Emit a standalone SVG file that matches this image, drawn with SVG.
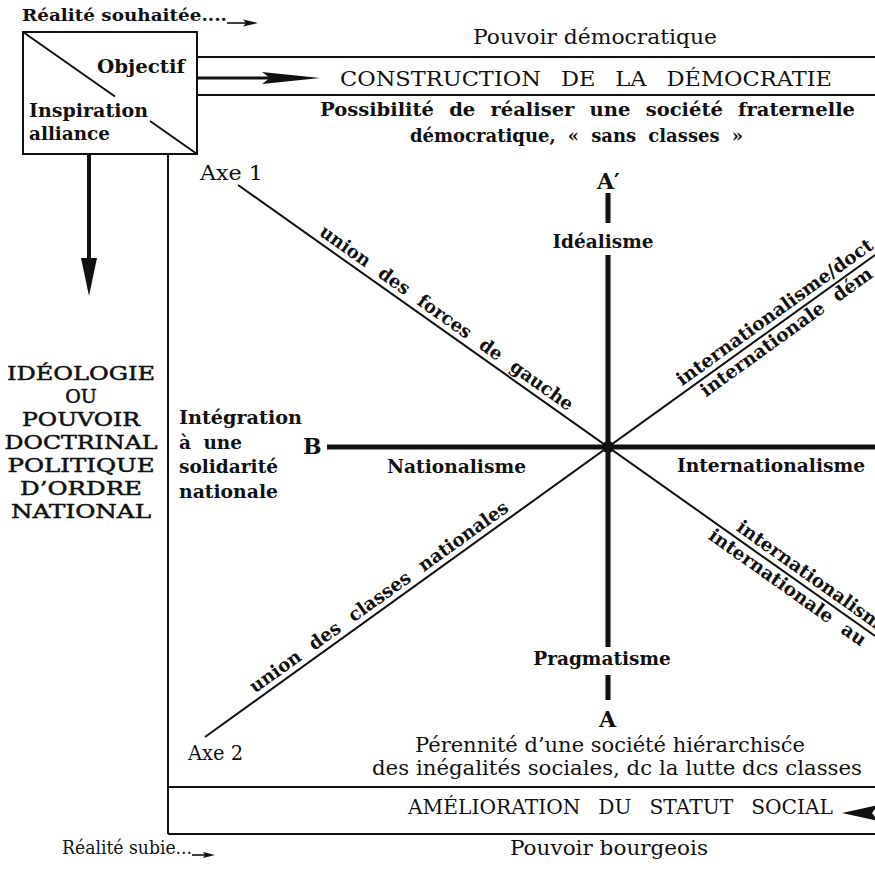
<svg xmlns="http://www.w3.org/2000/svg" width="875" height="870" viewBox="0 0 875 870">
<style>
text{font-family:"DejaVu Serif","Liberation Serif",serif;fill:#111}
.b{font-weight:bold;font-size:18.5px}
.r{font-size:20px}
.cap{font-size:21px;word-spacing:12px}
.big{font-size:22px;font-weight:bold}
.ideo{font-size:19px;text-anchor:middle;stroke:#111;stroke-width:0.5}
.ln{stroke:#111;stroke-width:2;fill:none}
.thin{stroke:#111;stroke-width:1.6;fill:none}
.axis{stroke:#111;stroke-width:5;fill:none}
.fill{fill:#111;stroke:none}
</style>
<rect width="875" height="870" fill="#fff"/>

<g id="connectors">
  <line class="ln" x1="197" y1="57" x2="875" y2="57"/>
  <line class="ln" x1="197" y1="95" x2="875" y2="95"/>
  <line x1="197" y1="78" x2="272" y2="78" stroke="#111" stroke-width="3"/>
  <polygon class="fill" points="262,72 320,78 262,84 270,78"/>
  <line x1="89" y1="154" x2="89" y2="262" stroke="#111" stroke-width="4"/>
  <polygon class="fill" points="81,258 97,258 89,296"/>
  <line class="ln" x1="168" y1="154" x2="168" y2="834"/>
  <line class="thin" x1="227" y1="23" x2="248" y2="23"/>
  <polygon class="fill" points="243,19.5 258,23 243,26.5 246,23"/>
  <line class="thin" x1="192" y1="855" x2="206" y2="855"/>
  <polygon class="fill" points="203,852 215,855 203,858 205,855"/>
  <line class="axis" x1="327" y1="447" x2="875" y2="447"/>
  <line class="axis" x1="608" y1="193" x2="608" y2="223"/>
  <line class="axis" x1="608" y1="255" x2="608" y2="647"/>
  <line class="axis" x1="608" y1="675" x2="608" y2="700"/>
  <line class="ln" x1="238" y1="185" x2="875" y2="636"/>
  <line class="ln" x1="205" y1="737" x2="875" y2="255"/>
  <circle class="fill" cx="608" cy="447" r="6"/>
  <polygon class="fill" points="842,813 878,805 872,813 878,821"/>
</g>

<g id="reality-top">
  <text x="22" y="21" font-weight="bold" font-size="17" textLength="205" lengthAdjust="spacingAndGlyphs">Réalité souhaitée....</text>
</g>

<g id="box">
  <rect x="23" y="32" width="174" height="122" class="ln"/>
  <line class="ln" x1="23" y1="32" x2="115" y2="96.5"/>
  <line class="ln" x1="150" y1="121" x2="197" y2="154"/>
  <text class="b" x="97" y="73" textLength="88" lengthAdjust="spacingAndGlyphs">Objectif</text>
  <text class="b" x="29" y="117" textLength="119" lengthAdjust="spacingAndGlyphs">Inspiration</text>
  <text class="b" x="29" y="140" textLength="81" lengthAdjust="spacingAndGlyphs">alliance</text>
</g>

<g id="top-banner">
  <text class="r" x="473" y="44" textLength="244" lengthAdjust="spacingAndGlyphs">Pouvoir démocratique</text>
  <text class="cap" x="340" y="86" textLength="492" lengthAdjust="spacingAndGlyphs">CONSTRUCTION DE LA DÉMOCRATIE</text>
  <text class="b" x="320" y="116" word-spacing="8" textLength="535" lengthAdjust="spacingAndGlyphs">Possibilité de réaliser une société fraternelle</text>
  <text class="b" x="410" y="142" word-spacing="6" textLength="333" lengthAdjust="spacingAndGlyphs">démocratique, « sans classes »</text>
</g>

<g id="ideologie">
  <text class="ideo" x="81" y="380" textLength="148" lengthAdjust="spacingAndGlyphs">IDÉOLOGIE</text>
  <text class="ideo" x="81" y="403">OU</text>
  <text class="ideo" x="81" y="426" textLength="118" lengthAdjust="spacingAndGlyphs">POUVOIR</text>
  <text class="ideo" x="81" y="449" textLength="153" lengthAdjust="spacingAndGlyphs">DOCTRINAL</text>
  <text class="ideo" x="81" y="472" textLength="147" lengthAdjust="spacingAndGlyphs">POLITIQUE</text>
  <text class="ideo" x="81" y="495" textLength="122" lengthAdjust="spacingAndGlyphs">D’ORDRE</text>
  <text class="ideo" x="81" y="518" textLength="140" lengthAdjust="spacingAndGlyphs">NATIONAL</text>
</g>

<g id="integration">
  <text class="b" x="179" y="424" textLength="123" lengthAdjust="spacingAndGlyphs">Intégration</text>
  <text class="b" x="179" y="449" word-spacing="6" textLength="63" lengthAdjust="spacingAndGlyphs">à une</text>
  <text class="b" x="179" y="473" textLength="99" lengthAdjust="spacingAndGlyphs">solidarité</text>
  <text class="b" x="179" y="498" textLength="99" lengthAdjust="spacingAndGlyphs">nationale</text>
</g>

<g id="axis-labels">
  <text class="big" x="303" y="454">B</text>
  <text class="big" x="597" y="189">A′</text>
  <text class="big" x="599" y="727">A</text>
  <text class="b" x="603" y="248" text-anchor="middle">Idéalisme</text>
  <text class="b" x="602" y="665" text-anchor="middle">Pragmatisme</text>
  <text class="b" x="387" y="473" textLength="139" lengthAdjust="spacingAndGlyphs">Nationalisme</text>
  <text class="b" x="677" y="472" textLength="188" lengthAdjust="spacingAndGlyphs">Internationalisme</text>
  <text class="r" x="200" y="180" textLength="63" lengthAdjust="spacingAndGlyphs">Axe 1</text>
  <text class="r" x="188" y="760" textLength="55" lengthAdjust="spacingAndGlyphs">Axe 2</text>
</g>

<g id="axe1-labels" transform="translate(238,185) rotate(35.31)">
  <text class="b" x="94" y="-6" word-spacing="8" textLength="306" lengthAdjust="spacingAndGlyphs">union des forces de gauche</text>
  <text class="b" x="605" y="-6">internationalism</text>
  <text class="b" x="587" y="17" word-spacing="8">internationale au</text>
</g>

<g id="axe2-labels" transform="translate(205,737) rotate(-35.74)">
  <text class="b" x="66" y="-6" word-spacing="8" textLength="314" lengthAdjust="spacingAndGlyphs">union des classes nationales</text>
  <text class="b" x="592" y="-6">internationalisme/doct</text>
  <text class="b" x="605" y="17" word-spacing="8">internationale dém</text>
</g>

<g id="bottom-banner">
  <text class="r" x="415" y="752" textLength="390" lengthAdjust="spacingAndGlyphs">Pérennité d’une société hiérarchisće</text>
  <text class="r" x="372" y="775" textLength="490" lengthAdjust="spacingAndGlyphs">des inégalités sociales, dc la lutte dcs classes</text>
  <line class="ln" x1="168" y1="787" x2="875" y2="787"/>
  <line class="ln" x1="168" y1="834" x2="875" y2="834"/>
  <text class="cap" x="408" y="814" font-size="20" textLength="425" lengthAdjust="spacingAndGlyphs">AMÉLIORATION DU STATUT SOCIAL</text>
  <text class="r" x="510" y="855" textLength="198" lengthAdjust="spacingAndGlyphs">Pouvoir bourgeois</text>
</g>

<g id="reality-bottom">
  <text x="62" y="854" font-size="18" textLength="130" lengthAdjust="spacingAndGlyphs">Réalité subie...</text>
</g>
</svg>
